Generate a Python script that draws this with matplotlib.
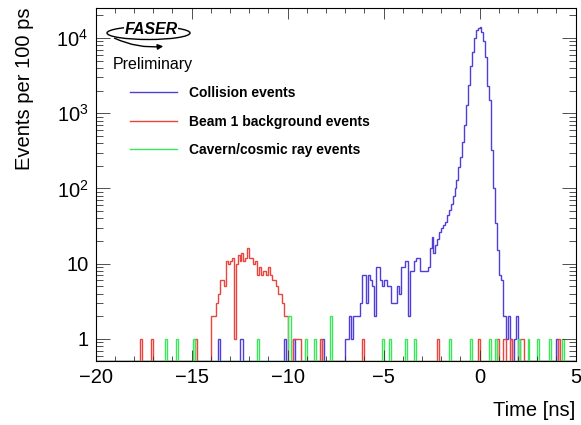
import numpy as np
import matplotlib.pyplot as plt
from matplotlib.patches import Ellipse, FancyArrowPatch

plt.rcParams['font.family'] = ['Liberation Sans', 'DejaVu Sans']

# binning: 100 ps bins from -20 ns to 5 ns
t_min, t_max, bin_width = -20.0, 5.0, 0.1

# collision events: contiguous block starting at -7.0 ns plus a few single entries
collision_start = -7.0
collision_block = [1, 1, 2, 1, 2, 2, 2, 2, 3,
                   7, 7, 3, 7, 6, 5, 2, 9, 9, 6,
                   5, 6, 6, 5, 5, 3, 3, 3, 5, 4,
                   9, 9, 11, 11, 2, 8, 8, 11, 12, 12,
                   8, 8, 8, 8, 9, 16, 23, 14, 18, 21,
                   26, 30, 33, 36, 45, 52, 63, 80, 100, 130,
                   195, 265, 420, 700, 1300, 2400, 4200, 6600, 10000, 12800,
                   13500, 14000, 12000, 9000, 5500, 2300, 1500, 320, 100, 35,
                   15, 7, 6, 2, 2, 1, 2, 1, 0, 1, 2]
collision_single_t = [-13.6, -12.5, -12.4, -10.2, -9.7, -8.2, 4.0]

# beam 1 background events
beam_start = -14.0
beam_block = [2, 2, 2, 3, 4, 6, 6, 5, 11, 10,
              11, 12, 1, 10, 13, 11, 14, 11, 12, 16,
              12, 12, 10, 11, 7, 9, 7, 8, 8, 7,
              9, 7, 6, 6, 5, 4, 4, 3, 2, 2]
beam_single_t = [-17.7, -17.1, -14.8, -9.7, -9.6, -9.5, -9.4, -8.3, -6.1,
                 -2.2, -0.1, 0.9, 1.2, 1.3, 1.6, 2.1, 2.2, 4.1]

# cavern / cosmic ray events
cosmic_t = [-16.4, -15.8, -14.9, -11.6, -10.0, -9.9, -9.1, -8.6, -7.8, -5.1,
            -4.7, -3.9, -3.4, -1.6, -0.5, 0.5, 0.8, 2.0, 2.5, 3.0, 3.6, 4.3]
cosmic_n = [1, 1, 1, 1, 2, 2, 1, 1, 2, 1,
            1, 1, 1, 1, 1, 1, 1, 1, 1, 1, 1, 1]

series_labels = ['Collision events', 'Beam 1 background events', 'Cavern/cosmic ray events']
series_colors = ['#4f3fd8', '#e8453f', '#3ce65a']

y_ticks = [1, 10, 100, 1000, 10000]
y_tick_labels = ['1', '10', r'$\mathdefault{10^{2}}$', r'$\mathdefault{10^{3}}$', r'$\mathdefault{10^{4}}$']
y_lo, y_hi = 0.51, 2.5e4

nbins = int(round((t_max - t_min) / bin_width))
edges = np.linspace(t_min, t_max, nbins + 1)


def to_bin(t):
    return int(round((t - t_min) / bin_width))


def make_hist(block_start=None, block=(), single_t=(), single_n=None):
    h = np.zeros(nbins)
    if block_start is not None:
        i0 = to_bin(block_start)
        h[i0:i0 + len(block)] += np.array(block, dtype=float)
    if single_n is None:
        single_n = [1] * len(single_t)
    for t, n in zip(single_t, single_n):
        h[to_bin(t)] += n
    return h


h_col = make_hist(collision_start, collision_block, collision_single_t)
h_beam = make_hist(beam_start, beam_block, beam_single_t)
h_cos = make_hist(single_t=cosmic_t, single_n=cosmic_n)

fig = plt.figure(figsize=(5.81, 4.25), dpi=100)
ax = fig.add_axes([95.5 / 581, 64 / 425, 480 / 581, 353 / 425])

floor = y_lo * 1.01
handles = []
for h, c, lab in zip([h_col, h_beam, h_cos], series_colors, series_labels):
    s = ax.stairs(np.where(h > 0, h, floor), edges, baseline=None,
                  color=c, lw=1.0, label=lab)
    handles.append(s)

ax.set_yscale('log')
ax.set_xlim(t_min, t_max)
ax.set_ylim(y_lo, y_hi)
ax.set_xticks(np.arange(-20, 6, 5))
ax.set_xticks(np.arange(-20, 6, 1), minor=True)
ax.set_yticks(y_ticks)
ax.set_yticklabels(y_tick_labels)
ax.yaxis.set_minor_formatter(plt.NullFormatter())
ax.tick_params(axis='both', which='both', direction='in', top=True, right=True,
               labelsize=14.5, width=0.6, color='#333333', pad=5)
ax.tick_params(axis='x', which='major', length=7.6)
ax.tick_params(axis='x', which='minor', length=3.8)
ax.tick_params(axis='y', which='major', length=10.4)
ax.tick_params(axis='y', which='minor', length=5.2)
for sp in ax.spines.values():
    sp.set_linewidth(0.8)

fig.text(25 / 581, 1 - 8 / 425, 'Events per 100 ps', rotation=90,
         ha='center', va='top', fontsize=14.5)
fig.text(575 / 581, 1 - 410 / 425, 'Time [ns]', ha='right', va='center', fontsize=14.5)

# legend, ROOT style
leg = ax.legend(handles=handles, loc='upper left',
                bbox_to_anchor=(123 / 581, 1 - 79 / 425), bbox_transform=fig.transFigure,
                frameon=False, borderpad=0, handlelength=3.4, handletextpad=0.85,
                labelspacing=1.05, prop={'weight': 'bold', 'size': 10})
for ln in leg.get_lines():
    ln.set_linewidth(1.0)

# FASER logo
fig.patches.append(Ellipse((148.5 / 581, 1 - 33 / 425), 83 / 581, 13 / 425,
                           transform=fig.transFigure, fill=False, lw=1.0, ec='black'))
fig.text(151 / 581, 1 - 29 / 425, 'FASER', ha='center', va='center',
         fontsize=11.5, fontweight='bold', fontstyle='italic',
         bbox=dict(boxstyle='square,pad=0.05', fc='white', ec='none'))
fig.patches.append(FancyArrowPatch((112 / 581, 1 - 37 / 425), (166 / 581, 1 - 46 / 425),
                                   transform=fig.transFigure, arrowstyle='-|>',
                                   mutation_scale=8, lw=1.0, color='black',
                                   connectionstyle='arc3,rad=0.15'))
fig.text(113 / 581, 1 - 64 / 425, 'Preliminary', ha='left', va='center', fontsize=11.5)

fig.savefig('out.png', dpi=100)
